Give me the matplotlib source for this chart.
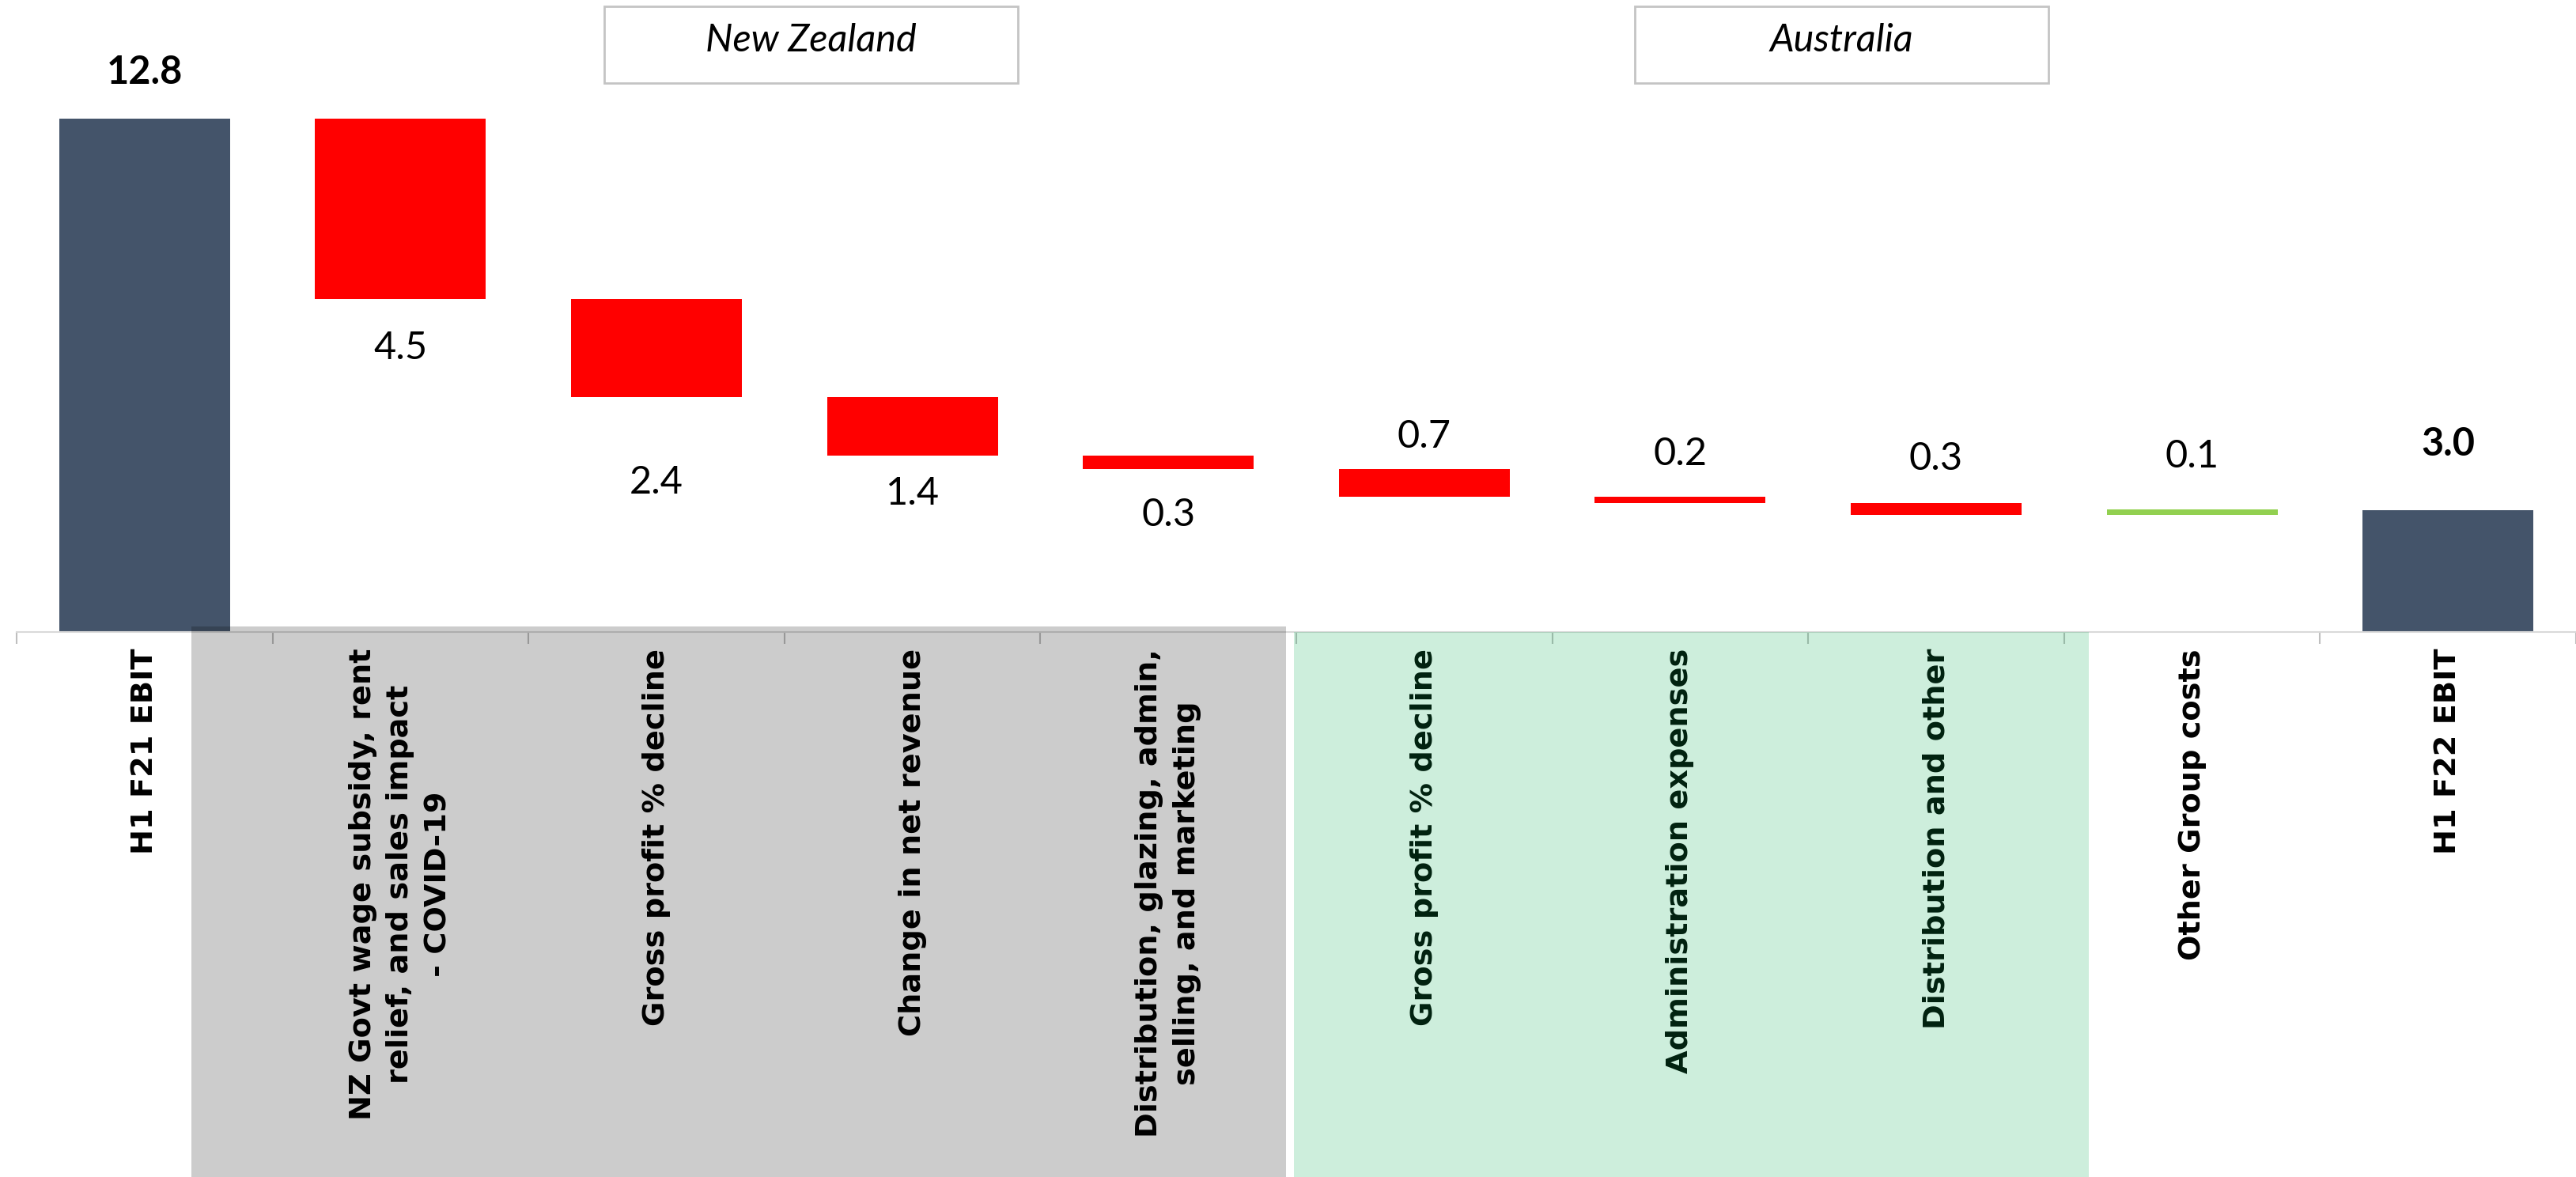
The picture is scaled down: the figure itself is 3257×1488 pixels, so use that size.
#!/usr/bin/env python3
"""
EBIT waterfall: H1 F21 -> H1 F22
"""

import numpy as np
import matplotlib
matplotlib.use('Agg')
import matplotlib.pyplot as plt
from matplotlib.patches import Rectangle

plt.rcParams['font.family'] = ['DejaVu Sans']

# categories along the axis
categories = [
    'H1 F21 EBIT',
    'NZ Govt wage subsidy, rent\nrelief, and sales impact\n- COVID-19',
    'Gross profit % decline',
    'Change in net revenue',
    'Distribution, glazing, admin,\nselling, and marketing',
    'Gross profit % decline',
    'Administration expenses',
    'Distribution and other',
    'Other Group costs',
    'H1 F22 EBIT',
]

start_value = 12.8
end_value = 3.04
# movements between the two totals (negative = decline)
deltas = [-4.5, -2.44, -1.46, -0.34, -0.68, -0.16, -0.30, 0.14]
value_labels = ['12.8', '4.5', '2.4', '1.4', '0.3', '0.7', '0.2', '0.3', '0.1', '3.0']

# label placement: pixel offset from bar edge (+ above top, - below bottom)
label_offsets_px = [59, -62, -108, -48, -58, 41, 54, 56, 67, 83]

region_names = ['New Zealand', 'Australia']

TOTAL_COLOR = '#44546A'
DOWN_COLOR = '#FF0000'
UP_COLOR = '#92D050'

# waterfall geometry
bottoms, heights, colors = [0.0], [start_value], [TOTAL_COLOR]
level = start_value
for d in deltas:
    new_level = level + d
    bottoms.append(min(level, new_level))
    heights.append(abs(d))
    colors.append(DOWN_COLOR if d < 0 else UP_COLOR)
    level = new_level
bottoms.append(0.0)
heights.append(end_value)
colors.append(TOTAL_COLOR)

x = np.arange(len(categories))

fig = plt.figure(figsize=(32.57, 14.88), dpi=100)
ax = fig.add_axes([0.00645, 0.463, 0.99355, 0.537])

ax.bar(x, heights, bottom=bottoms, width=0.668, color=colors, zorder=2)

ax.set_xlim(-0.5, len(categories) - 0.5)
ax.set_ylim(0, 15.76)

for s in ['top', 'left', 'right']:
    ax.spines[s].set_visible(False)
ax.spines['bottom'].set_color('#D9D9D9')
ax.spines['bottom'].set_linewidth(1.5)
ax.set_yticks([])

ax.set_xticks(x)
ax.set_xticklabels(categories, rotation=90, ha='center', va='top',
                   multialignment='center', fontweight='bold', fontsize=27.5,
                   linespacing=1.42)
ax.set_xticks(np.arange(-0.5, len(categories), 1), minor=True)
ax.tick_params(axis='x', which='major', length=0, pad=15)
ax.tick_params(axis='x', which='minor', length=11, width=1.5, color='#BFBFBF')

# value labels
for i in range(len(categories)):
    off = label_offsets_px[i] * 0.72
    anchor = bottoms[i] + heights[i] if off > 0 else bottoms[i]
    bold = i in (0, len(categories) - 1)
    ax.annotate(value_labels[i], (x[i], anchor), xytext=(0, off),
                textcoords='offset points', ha='center', va='center',
                fontsize=35, family=['Lato', 'DejaVu Sans'],
                fontweight='bold' if bold else 'normal', color='black')

# region shading over the axis labels
ax.add_patch(Rectangle((0.183, -14), 4.461 - 0.183, 14.14, facecolor='black',
                       alpha=0.2, edgecolor='none', clip_on=False, zorder=5))
ax.add_patch(Rectangle((4.492, -14), 7.596 - 4.492, 14.0, facecolor='#05AA50',
                       alpha=0.2, edgecolor='none', clip_on=False, zorder=5))

# region title boxes
for name, x0 in zip(region_names, [0.2346, 0.6346]):
    fig.patches.append(Rectangle((x0, 0.9294), 0.1606, 0.0652,
                                 transform=fig.transFigure, facecolor='white',
                                 edgecolor='#C4C4C4', linewidth=2))
    fig.text(x0 + 0.0803, 0.9655, name, ha='center', va='center',
             fontsize=35, style='italic', family=['Lato', 'DejaVu Sans'])

fig.savefig('out.png', dpi=100)
